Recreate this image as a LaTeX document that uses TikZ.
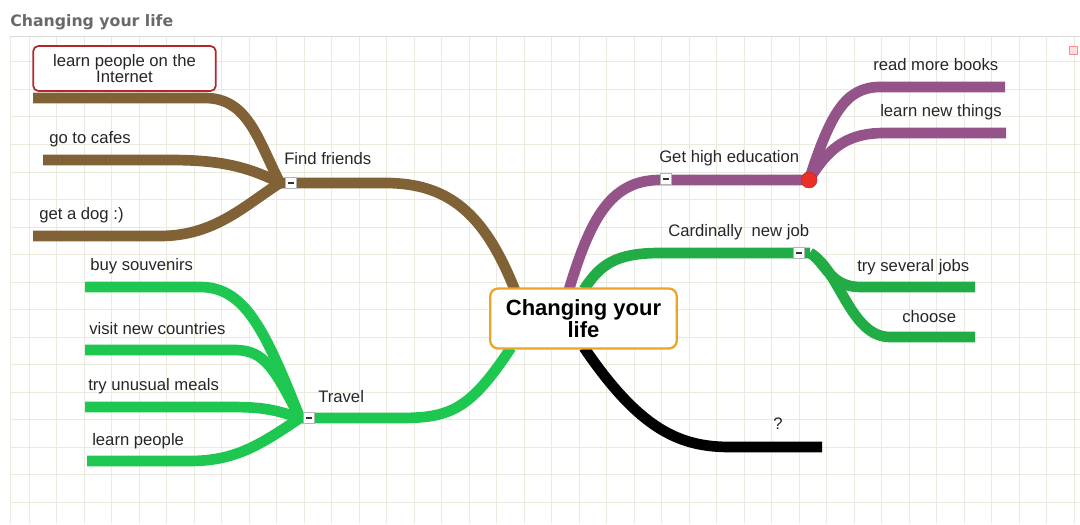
\documentclass[tikz,border=0pt]{standalone}
\usepackage{fontspec}
\setmainfont{Liberation Sans}
\newfontfamily\headfont{DejaVu Sans}
\usetikzlibrary{positioning}
\usetikzlibrary{calc}
\definecolor{brownbr}{RGB}{128,98,54}
\definecolor{purplebr}{RGB}{148,84,138}
\definecolor{greenbr}{RGB}{34,172,70}
\definecolor{greentr}{RGB}{30,200,80}
\definecolor{gridc}{RGB}{234,234,222}
\definecolor{rootc}{RGB}{232,165,40}
\definecolor{leafred}{RGB}{178,38,44}
\definecolor{dotred}{RGB}{232,48,40}
\definecolor{titlec}{RGB}{105,105,105}
\pgfdeclarelayer{grid}
\pgfdeclarelayer{background}
\pgfsetlayers{grid,background,main}

\begin{document}
\begin{tikzpicture}[x=0.75pt,y=-0.75pt,
  branch/.style={line width=8pt},
  lbl/.style={font=\fontsize{12.5}{15}\selectfont, text=black!85, inner sep=0pt, anchor=base west},
  minusbox/.style={draw=gray!60, fill=white, line width=0.5pt, minimum size=8.5pt, inner sep=0pt,
    path picture={\draw[line width=1.4pt, black!80] ([xshift=-2pt]path picture bounding box.center) -- ([xshift=2pt]path picture bounding box.center);}}]
\useasboundingbox (0,0) rectangle (1080,524);

% grid
\begin{pgfonlayer}{grid}
\foreach \i in {0,...,38} \draw[gridc, line width=0.75pt] ({29+27.5*\i},37) -- ({29+27.5*\i},524);
\foreach \j in {0,...,16} \draw[gridc, line width=0.75pt] (10,{62+27.5*\j}) -- (1080,{62+27.5*\j});
\draw[gridc, line width=0.75pt] (10,37) -- (10,524);
\draw[black!15, line width=0.75pt] (10,37) -- (1080,37);
\end{pgfonlayer}

\node[anchor=base west, inner sep=0pt, font=\headfont\bfseries\fontsize{11.8}{13}\selectfont, text=titlec] (title) at (10,26.5) {Changing your life};
\node[draw=red!45, fill=red!12, minimum size=6pt, inner sep=0pt] (corner) at (1073,50) {};

% central topic
\node[draw=rootc, line width=1.7pt, rounded corners=6pt, fill=white, minimum width=140pt, minimum height=45pt, align=center, font=\bfseries\fontsize{16.5}{17}\selectfont] (root) at (583.5,318.5) {Changing your\\life};
\node[draw=leafred, line width=1.3pt, rounded corners=4pt, fill=white, minimum width=137pt, minimum height=33.75pt, align=center, font=\fontsize{12.5}{11.5}\selectfont, text=black!85] (inet) at (124.5,68.5) {learn people on the\\Internet};

% branch ends
\coordinate (inetEnd) at (33,98);
\coordinate (cafesEnd) at (43,160);
\coordinate (dogEnd) at (33,236);
\coordinate (ffhub) at (280,183);
\coordinate (edu) at (809,180);
\coordinate (booksEnd) at (1005,87);
\coordinate (thingsEnd) at (1006,133);
\coordinate (jobhub) at (810,253);
\coordinate (tryEnd) at (975,287);
\coordinate (chooseEnd) at (975,337);
\coordinate (trhub) at (300,418);
\coordinate (souvEnd) at (85,287);
\coordinate (visitEnd) at (85,350);
\coordinate (mealsEnd) at (85,407);
\coordinate (peopleEnd) at (87,461);
\coordinate (askEnd) at (822,447);

\begin{pgfonlayer}{background}
% Find friends
\draw[branch, brownbr] ($(root.north west)+(26,3)$) .. controls (485,215) and (450,183) .. (385,183) -- (ffhub);
\draw[branch, brownbr] (ffhub) .. controls (258,140) and (248,98) .. (205,98) -- (inetEnd);
\draw[branch, brownbr] (ffhub) .. controls (245,165) and (215,160) .. (170,160) -- (cafesEnd);
\draw[branch, brownbr] (ffhub) .. controls (245,205) and (215,236) .. (160,236) -- (dogEnd);
% Get high education
\draw[branch, purplebr] ($(root.north west)+(80,2)$) .. controls (590,220) and (610,180) .. (660,180) -- (edu);
\draw[branch, purplebr] (edu) .. controls (830,115) and (845,87) .. (880,87) -- (booksEnd);
\draw[branch, purplebr] (edu) .. controls (830,145) and (850,133) .. (885,133) -- (thingsEnd);
% Cardinally new job
\draw[branch, greenbr] ($(root.north west)+(95,2)$) .. controls (600,265) and (615,253) .. (660,253) -- (jobhub);
\draw[branch, greenbr] (jobhub) .. controls (825,262) and (830,287) .. (860,287) -- (tryEnd);
\draw[branch, greenbr] (jobhub) .. controls (840,270) and (850,337) .. (890,337) -- (chooseEnd);
% Travel
\draw[branch, greentr] ($(root.south west)+(22,-2)$) .. controls (470,410) and (450,418) .. (400,418) -- (trhub);
\draw[branch, greentr] (trhub) .. controls (265,330) and (245,287) .. (200,287) -- (souvEnd);
\draw[branch, greentr] (trhub) .. controls (275,370) and (265,350) .. (235,350) -- (visitEnd);
\draw[branch, greentr] (trhub) .. controls (275,410) and (265,407) .. (230,407) -- (mealsEnd);
\draw[branch, greentr] (trhub) .. controls (260,445) and (235,461) .. (190,461) -- (peopleEnd);
% ?
\draw[branch, black] ($(root.south west)+(95,-2)$) .. controls (640,430) and (680,447) .. (730,447) -- (askEnd);
\end{pgfonlayer}

\node[minusbox] (ffmin) at (291,183) {};
\node[minusbox] (edumin) at (666,179) {};
\node[minusbox] (jobmin) at (799,253) {};
\node[minusbox] (trmin) at (309,418) {};
\node[circle, fill=dotred, draw=dotred!85!black, line width=0.4pt, minimum size=12pt, inner sep=0pt] (edudot) at (edu) {};

% labels
\node[lbl] (cafes) at (49,144) {go to cafes};
\node[lbl] (dog) at (39,219) {get a dog :)};
\node[lbl] (friends) at (284,165) {Find friends};
\node[lbl] (souv) at (90,270) {buy souvenirs};
\node[lbl] (visit) at (89,334) {visit new countries};
\node[lbl] (meals) at (88,390) {try unusual meals};
\node[lbl] (people) at (92,445) {learn people};
\node[lbl] (travel) at (318,402) {Travel};
\node[lbl] (highedu) at (659,162) {Get high education};
\node[lbl] (books) at (873,71) {read more books};
\node[lbl] (things) at (880,117) {learn new things};
\node[lbl] (newjob) at (668,236) {Cardinally\ \ new job};
\node[lbl] (several) at (857,271) {try several jobs};
\node[lbl] (choose) at (902,322) {choose};
\node[lbl] (ask) at (773,429) {?};
\end{tikzpicture}
\end{document}
